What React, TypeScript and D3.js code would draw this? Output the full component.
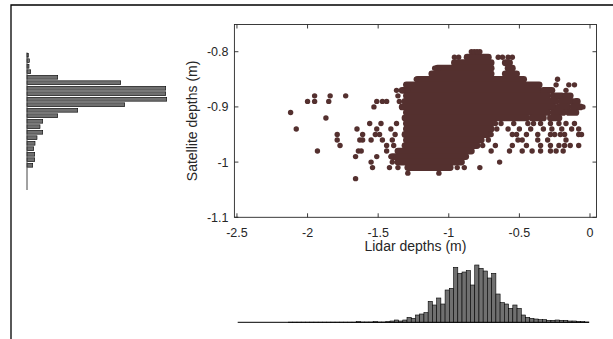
import React, { useEffect, useRef } from 'react';
import * as d3 from 'd3';

// satellite depth histogram (left, horizontal bars), top bin first
const satCounts = [13, 23, 20, 37, 307, 937, 1387, 1387, 1397, 977, 507, 307, 157, 130, 157, 100, 80, 67, 77, 77, 57, 0, 0, 0, 0];

// lidar depth histogram (bottom), 83 bins over [-2.5, 0]
const lidarCounts = [
  0, 0, 0, 0, 0, 0, 0, 0, 0, 0, 0, 0,
  3, 3, 3, 3, 3, 3, 3, 3, 3, 3, 3, 3, 3, 3, 3, 3,
  14, 6, 6, 6, 14, 6, 6, 14,
  26, 46, 26, 46, 100, 80, 146, 166, 194, 420, 346, 486, 366, 646, 680, 1100, 980, 1006, 1034, 746,
  1146, 1080, 1026, 886, 980, 566, 394, 366, 280, 346, 280, 146, 100, 80, 66, 54, 54, 40, 40, 46,
  40, 40, 26, 26, 20, 14, 6,
];

// dense part of the scatter: [satellite depth, lidar from, lidar to]
const coreRuns: [number, number, number][] = [
  [-0.81, -0.87, -0.72],
  [-0.82, -0.96, -0.70], [-0.82, -0.60, -0.57],
  [-0.83, -1.08, -0.70], [-0.83, -0.58, -0.55],
  [-0.84, -1.12, -0.70], [-0.84, -0.60, -0.52],
  [-0.85, -1.22, -0.47],
  [-0.86, -1.30, -0.36],
  [-0.87, -1.33, -0.36], [-0.87, -0.33, -0.27],
  [-0.88, -1.30, -0.30], [-0.88, -0.26, -0.20], [-0.88, -0.17, -0.14],
  [-0.89, -1.31, -0.24], [-0.89, -0.20, -0.13], [-0.89, -0.10, -0.09],
  [-0.90, -1.33, -0.26], [-0.90, -0.22, -0.16], [-0.90, -0.12, -0.07],
  [-0.91, -1.30, -0.30], [-0.91, -0.26, -0.19], [-0.91, -0.15, -0.10],
  [-0.92, -1.31, -0.45], [-0.92, -0.41, -0.33], [-0.92, -0.28, -0.22],
  [-0.93, -1.30, -0.70],
  [-0.94, -1.30, -0.70],
  [-0.95, -1.31, -0.72],
  [-0.96, -1.30, -0.77],
  [-0.97, -1.31, -0.80],
  [-0.98, -1.36, -0.84],
  [-0.99, -1.40, -0.88],
  [-1.00, -1.36, -0.91],
  [-1.01, -1.29, -0.99],
];

// single scatter points: [lidar depth, satellite depth]
const scatterPts: [number, number][] = [
  [-2.12, -0.91], [-2.08, -0.94], [-2.0, -0.89], [-1.95, -0.88], [-1.95, -0.89], [-1.93, -0.98],
  [-1.87, -0.92], [-1.85, -0.89], [-1.84, -0.88], [-1.73, -0.88], [-1.79, -0.95], [-1.79, -0.96],
  [-1.77, -0.97], [-1.66, -1.03], [-1.66, -0.99], [-1.65, -0.94], [-1.64, -0.98], [-1.62, -0.98],
  [-1.63, -0.96], [-1.61, -0.95], [-1.61, -0.96], [-1.56, -0.93], [-1.55, -0.96], [-1.55, -1.0],
  [-1.54, -1.01], [-1.53, -0.90], [-1.51, -0.89], [-1.47, -0.89], [-1.44, -0.89], [-1.51, -0.99],
  [-1.48, -0.93], [-1.51, -0.94], [-1.52, -0.95], [-1.49, -0.95], [-1.47, -0.96], [-1.44, -0.97],
  [-1.44, -0.98], [-1.37, -0.87], [-1.33, -0.87], [-1.29, -0.87], [-1.23, -0.85], [-1.07, -0.83],
  [-1.10, -0.83], [-1.36, -0.88], [-1.35, -0.89], [-1.37, -0.93], [-1.29, -1.02], [-1.07, -1.02],
  [-1.41, -0.99], [-1.40, -1.00], [-1.42, -1.01], [-1.36, -1.01], [-1.39, -0.97], [-1.40, -0.96],
  [-1.38, -0.95], [-1.41, -0.94],
  [-0.84, -0.80], [-0.82, -0.80], [-0.80, -0.80], [-0.78, -0.80],
  [-0.96, -0.81], [-0.93, -0.81], [-0.65, -0.81], [-0.62, -0.81], [-0.58, -0.81], [-0.55, -0.81],
  [-0.23, -0.85], [-0.24, -0.86], [-0.11, -0.86], [-0.17, -0.87], [-0.15, -0.86], [-0.05, -0.90],
  [-0.67, -0.93], [-0.63, -0.93], [-0.54, -0.93], [-0.44, -0.93], [-0.40, -0.93], [-0.35, -0.93],
  [-0.28, -0.93], [-0.22, -0.93], [-0.17, -0.93], [-0.11, -0.93],
  [-0.66, -0.94], [-0.58, -0.94], [-0.50, -0.94], [-0.42, -0.94], [-0.33, -0.94], [-0.27, -0.94],
  [-0.20, -0.94], [-0.13, -0.94], [-0.08, -0.94],
  [-0.70, -0.95], [-0.55, -0.95], [-0.52, -0.95], [-0.45, -0.95], [-0.37, -0.95], [-0.28, -0.95],
  [-0.25, -0.95], [-0.21, -0.95], [-0.18, -0.95], [-0.08, -0.95], [-0.06, -0.95],
  [-0.72, -0.96], [-0.51, -0.96], [-0.48, -0.96], [-0.37, -0.96], [-0.30, -0.96], [-0.17, -0.96],
  [-0.76, -0.97], [-0.67, -0.97], [-0.55, -0.97], [-0.45, -0.97], [-0.35, -0.97], [-0.28, -0.97],
  [-0.22, -0.97], [-0.18, -0.97], [-0.14, -0.97], [-0.08, -0.97],
  [-0.70, -0.98], [-0.57, -0.98], [-0.48, -0.98], [-0.41, -0.98], [-0.35, -0.98], [-0.28, -0.98],
  [-0.24, -0.98], [-0.19, -0.98],
  [-0.64, -1.00], [-0.94, -1.01], [-0.89, -1.01], [-0.78, -1.01],
];

const xTicks = [-2.5, -2, -1.5, -1, -0.5, 0];
const yTicks = [-0.8, -0.9, -1, -1.1];

const dotColor = '#54302f';
const axisColor = '#262626';
const font = '"Liberation Sans", Arial, sans-serif';

export default function App() {
  const ref = useRef<SVGSVGElement>(null);

  useEffect(() => {
    const svg = d3.select(ref.current);
    svg.selectAll('*').remove();

    // outer figure frame (cut by the window)
    svg.append('path')
      .attr('d', 'M11,339V5H613')
      .attr('fill', 'none')
      .attr('stroke', '#000')
      .attr('stroke-width', 1.3);

    // ---- scatter
    const x = d3.scaleLinear().domain([-2.518, 0.046]).range([234.4, 596.5]);
    const y = d3.scaleLinear().domain([-1.1, -0.7507]).range([217.3, 24.5]);
    const r = 2.7;

    const g = svg.append('g');
    g.selectAll('line.run')
      .data(coreRuns)
      .enter()
      .append('line')
      .attr('class', 'run')
      .attr('x1', d => x(d[1]))
      .attr('x2', d => x(d[2]))
      .attr('y1', d => y(d[0]))
      .attr('y2', d => y(d[0]))
      .attr('stroke', dotColor)
      .attr('stroke-width', r * 2 + 1.4)
      .attr('stroke-linecap', 'round');

    g.selectAll('circle')
      .data(scatterPts)
      .enter()
      .append('circle')
      .attr('cx', d => x(d[0]))
      .attr('cy', d => y(d[1]))
      .attr('r', r)
      .attr('fill', dotColor);

    const [x0, x1] = x.range();
    const [y0, y1] = y.range();
    const ax = svg.append('g').attr('stroke', axisColor).attr('stroke-width', 0.9);
    ax.append('rect')
      .attr('x', x0).attr('y', y1)
      .attr('width', x1 - x0).attr('height', y0 - y1)
      .attr('fill', 'none');
    const tl = 4;
    xTicks.forEach(t => {
      ax.append('line').attr('x1', x(t)).attr('x2', x(t)).attr('y1', y0).attr('y2', y0 - tl);
      ax.append('line').attr('x1', x(t)).attr('x2', x(t)).attr('y1', y1).attr('y2', y1 + tl);
    });
    yTicks.forEach(t => {
      ax.append('line').attr('x1', x0).attr('x2', x0 + tl).attr('y1', y(t)).attr('y2', y(t));
      ax.append('line').attr('x1', x1).attr('x2', x1 - tl).attr('y1', y(t)).attr('y2', y(t));
    });

    const fmt = (v: number) => String(+v.toFixed(2));
    svg.selectAll('text.xt')
      .data(xTicks)
      .enter()
      .append('text')
      .attr('class', 'xt')
      .attr('x', d => x(d))
      .attr('y', 236.5)
      .attr('text-anchor', 'middle')
      .attr('font-family', font)
      .attr('font-size', 12.5)
      .attr('fill', axisColor)
      .text(d => fmt(d));

    svg.selectAll('text.yt')
      .data(yTicks)
      .enter()
      .append('text')
      .attr('class', 'yt')
      .attr('x', 228.5)
      .attr('y', d => y(d) + 4.4)
      .attr('text-anchor', 'end')
      .attr('font-family', font)
      .attr('font-size', 12.5)
      .attr('fill', axisColor)
      .text(d => fmt(d));

    svg.append('text')
      .attr('x', (x0 + x1) / 2)
      .attr('y', 251)
      .attr('text-anchor', 'middle')
      .attr('font-family', font)
      .attr('font-size', 14)
      .attr('fill', axisColor)
      .text('Lidar depths (m)');

    svg.append('text')
      .attr('transform', `translate(197,${(y0 + y1) / 2}) rotate(-90)`)
      .attr('text-anchor', 'middle')
      .attr('font-family', font)
      .attr('font-size', 14)
      .attr('fill', axisColor)
      .text('Satellite depths (m)');

    // ---- left histogram (satellite)
    const hx = d3.scaleLinear().domain([0, 1400]).range([27, 167]);
    const hy = d3.scaleLinear().domain([0, satCounts.length]).range([52.5, 190]);
    const bh = hy(1) - hy(0);
    svg.append('g')
      .selectAll('rect')
      .data(satCounts.filter(c => c > 0))
      .enter()
      .append('rect')
      .attr('x', hx(0))
      .attr('y', (d, i) => hy(i) + bh * 0.15)
      .attr('width', d => hx(d) - hx(0))
      .attr('height', bh * 0.7)
      .attr('fill', '#707070')
      .attr('stroke', '#000')
      .attr('stroke-width', 0.6);
    svg.append('line')
      .attr('x1', hx(0)).attr('x2', hx(0))
      .attr('y1', hy(0)).attr('y2', hy(satCounts.length))
      .attr('stroke', '#444')
      .attr('stroke-width', 1);

    // ---- bottom histogram (lidar)
    const bx = d3.scaleLinear().domain([-2.5, 0]).range([237.7, 589]);
    const by = d3.scaleLinear().domain([0, 1150]).range([322.3, 264.8]);
    const w = 2.5 / lidarCounts.length;
    const bins = lidarCounts.map((c, i) => ({ lo: -2.5 + i * w, hi: -2.5 + (i + 1) * w, c }));
    svg.append('g')
      .selectAll('rect')
      .data(bins.filter(b => b.c > 0))
      .enter()
      .append('rect')
      .attr('x', d => bx(d.lo))
      .attr('y', d => by(d.c))
      .attr('width', d => bx(d.hi) - bx(d.lo))
      .attr('height', d => by(0) - by(d.c))
      .attr('fill', '#707070')
      .attr('stroke', '#000')
      .attr('stroke-width', 0.6);
    svg.append('line')
      .attr('x1', bx(-2.5)).attr('x2', bx(0))
      .attr('y1', by(0)).attr('y2', by(0))
      .attr('stroke', '#000')
      .attr('stroke-width', 1);
  }, []);

  return (
    <svg
      ref={ref}
      width={613}
      height={339}
      style={{ position: 'absolute', left: 0, top: 0, background: '#fff' }}
    />
  );
}
